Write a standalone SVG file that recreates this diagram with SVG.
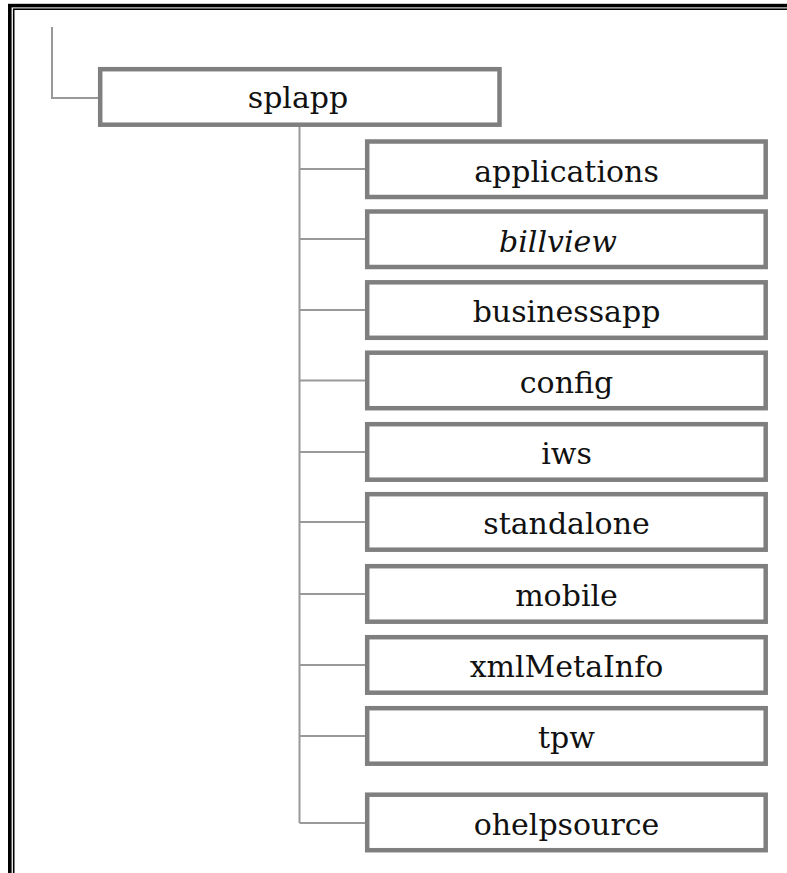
<svg xmlns="http://www.w3.org/2000/svg" width="787" height="873" viewBox="0 0 787 873">
<style>
  .frameOuter { fill: none; stroke: #000; stroke-width: 3.6; }
  .frameInner { fill: none; stroke: #000; stroke-width: 1.6; }
  .box { fill: #fff; stroke: #7f7f7f; stroke-width: 4.5; }
  .conn { fill: none; stroke: #999; stroke-width: 2; }
  .lbl { font-family: "DejaVu Serif", "Liberation Serif", serif; font-size: 30px; fill: #111; text-anchor: middle; }
  .it { font-style: italic; }
</style>
<rect width="787" height="873" fill="#fff"/>
<g id="frame">
  <rect class="frameOuter" x="9.8" y="5.6" width="820" height="920"/>
  <rect class="frameInner" x="13.7" y="9.2" width="820" height="920"/>
</g>
<g id="connectors">
  <path class="conn" d="M52,27 V98 H100"/>
  <path class="conn" d="M299.5,125 V823"/>
  <path class="conn" d="M299.5,169 H367"/>
  <path class="conn" d="M299.5,239 H367"/>
  <path class="conn" d="M299.5,310 H367"/>
  <path class="conn" d="M299.5,380.5 H367"/>
  <path class="conn" d="M299.5,452 H367"/>
  <path class="conn" d="M299.5,522 H367"/>
  <path class="conn" d="M299.5,594 H367"/>
  <path class="conn" d="M299.5,665 H367"/>
  <path class="conn" d="M299.5,736 H367"/>
  <path class="conn" d="M299.5,823 H367"/>
</g>
<g id="splapp">
  <rect class="box" x="100.2" y="69.2" width="399.3" height="55.5"/>
  <text class="lbl" x="298" y="108">splapp</text>
</g>
<g id="applications">
  <rect class="box" x="367.2" y="141.5" width="398.5" height="55.5"/>
  <text class="lbl" x="566.5" y="181.5">applications</text>
</g>
<g id="billview">
  <rect class="box" x="367.2" y="211.5" width="398.5" height="55.5"/>
  <text class="lbl it" x="558" y="251.5">billview</text>
</g>
<g id="businessapp">
  <rect class="box" x="367.2" y="282.3" width="398.5" height="55.5"/>
  <text class="lbl" x="566.5" y="322.3">businessapp</text>
</g>
<g id="config">
  <rect class="box" x="367.2" y="352.7" width="398.5" height="55.5"/>
  <text class="lbl" x="566.5" y="392.7">config</text>
</g>
<g id="iws">
  <rect class="box" x="367.2" y="424.2" width="398.5" height="55.5"/>
  <text class="lbl" x="566.5" y="464.2">iws</text>
</g>
<g id="standalone">
  <rect class="box" x="367.2" y="494.2" width="398.5" height="55.5"/>
  <text class="lbl" x="566.5" y="534.2">standalone</text>
</g>
<g id="mobile">
  <rect class="box" x="367.2" y="566.2" width="398.5" height="55.5"/>
  <text class="lbl" x="566.5" y="606.2">mobile</text>
</g>
<g id="xmlMetaInfo">
  <rect class="box" x="367.2" y="637.2" width="398.5" height="55.5"/>
  <text class="lbl" x="566.5" y="677.2">xmlMetaInfo</text>
</g>
<g id="tpw">
  <rect class="box" x="367.2" y="708.2" width="398.5" height="55.5"/>
  <text class="lbl" x="566.5" y="748.2">tpw</text>
</g>
<g id="ohelpsource">
  <rect class="box" x="367.2" y="794.7" width="398.5" height="55.5"/>
  <text class="lbl" x="566.5" y="834.7">ohelpsource</text>
</g>
</svg>
